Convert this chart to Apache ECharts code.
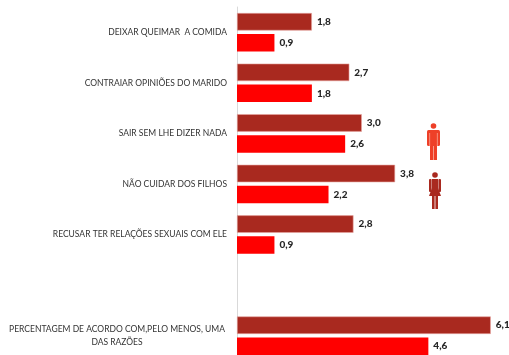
<!DOCTYPE html>
<html><head><meta charset="utf-8">
<style>html,body{margin:0;padding:0;background:#fff}#c{width:509px;height:355px}</style>
<script src="https://cdn.jsdelivr.net/npm/echarts@6/dist/echarts.min.js"></script>
</head><body><div id="c"></div>
<script>
const categories = ['DEIXAR QUEIMAR  A COMIDA','CONTRAIAR OPINIÕES DO MARIDO','SAIR SEM LHE DIZER NADA','NÃO CUIDAR DOS FILHOS','RECUSAR TER RELAÇÕES SEXUAIS COM ELE','','PERCENTAGEM DE ACORDO COM,PELO MENOS, UMA\nDAS RAZÕES'];
const mulheres = [1.8,2.7,3.0,3.8,2.8,null,6.1];
const homens = [0.9,1.8,2.6,2.2,0.9,null,4.6];
const font = 'Lato, Carlito, sans-serif';
const chart = echarts.init(document.getElementById('c'), null, {renderer:'canvas'});
const lab = {show:true, position:'right', distance:5, fontFamily:font, fontSize:10, fontWeight:'900', color:'#262626',
  formatter:p=>p.value==null?'':p.value.toFixed(1).replace('.',',')};
function man(x,y,c){return {type:'group',x,y,children:[
  {type:'circle',shape:{cx:6.5,cy:3,r:2.8},style:{fill:c}},
  {type:'rect',shape:{x:0,y:7,width:13,height:16,r:1.5},style:{fill:c}},
  {type:'rect',shape:{x:3,y:7,width:7,height:30},style:{fill:c}},
  {type:'rect',shape:{x:2.4,y:10,width:.7,height:13},style:{fill:'#f9b0a0'}},
  {type:'rect',shape:{x:9.9,y:10,width:.7,height:13},style:{fill:'#f9b0a0'}},
  {type:'rect',shape:{x:6.2,y:23,width:.8,height:14},style:{fill:'#f9b0a0'}}]};}
function woman(x,y,c){return {type:'group',x,y,children:[
  {type:'circle',shape:{cx:6.5,cy:3,r:2.8},style:{fill:c}},
  {type:'rect',shape:{x:0.5,y:7,width:2.6,height:13,r:1},style:{fill:c}},
  {type:'rect',shape:{x:9.9,y:7,width:2.6,height:13,r:1},style:{fill:c}},
  {type:'polygon',shape:{points:[[3.5,7],[9.5,7],[9.5,16],[12.5,24],[0.5,24],[3.5,16]]},style:{fill:c}},
  {type:'rect',shape:{x:3.5,y:24,width:2.6,height:13},style:{fill:c}},
  {type:'rect',shape:{x:6.9,y:24,width:2.6,height:13},style:{fill:c}}]};}
chart.setOption({
  animation:false,
  backgroundColor:'#fff',
  grid:{left:237,top:7,width:260,height:354,outerBoundsMode:'none'},
  xAxis:{type:'value',min:0,max:6.25,show:false},
  yAxis:{type:'category',inverse:true,data:categories,
    axisLine:{show:true,lineStyle:{color:'#d9d9d9',width:1}},axisTick:{show:false},
    axisLabel:{margin:10,interval:0,fontFamily:font,fontSize:8.5,color:'#333333',
      formatter:v=>v.includes('\n')?v.split('\n').map(s=>'{c|'+s+'}').join('\n'):v,
      rich:{c:{width:220,align:'center',fontFamily:font,fontSize:8.5,color:'#333333',lineHeight:12.5}}}},
  series:[
    {type:'bar',name:'Mulheres',data:mulheres,barWidth:17.5,barGap:'20%',itemStyle:{color:'#a9291f',borderColor:'#e5a5a0',borderWidth:0.6},label:lab},
    {type:'bar',name:'Homens',data:homens,barWidth:17.5,itemStyle:{color:'#ff0000'},label:lab}
  ],
  graphic:[man(427,123,'#ee4028'),woman(428.5,172,'#a9291f')]
});
</script></body></html>
